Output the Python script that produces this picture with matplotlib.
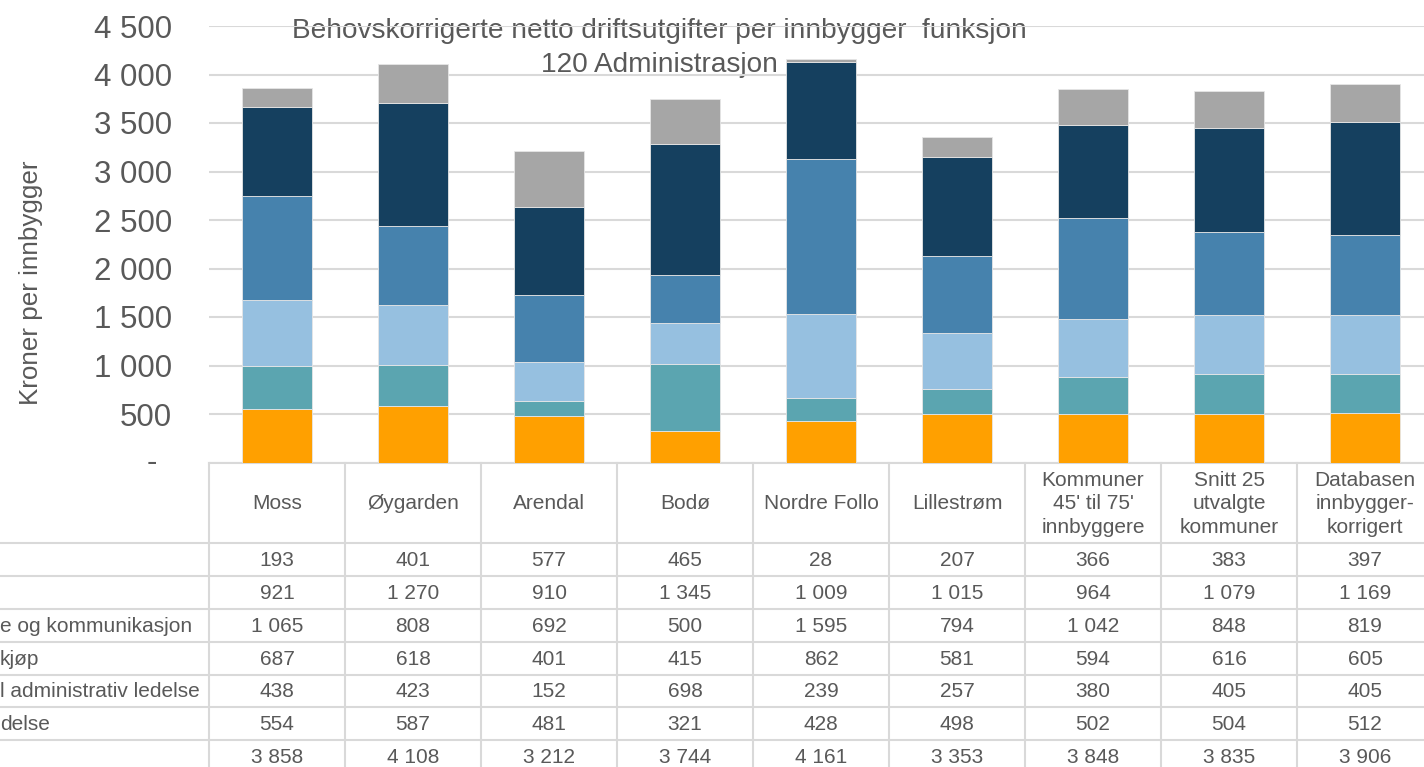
import matplotlib
matplotlib.use("Agg")
import matplotlib.pyplot as plt
from matplotlib.transforms import blended_transform_factory

# ---------------- data ----------------
categories = ["Moss", "Øygarden", "Arendal", "Bodø", "Nordre Follo", "Lillestrøm",
              "Kommuner\n45' til 75'\ninnbyggere", "Snitt 25\nutvalgte\nkommuner",
              "Databasen\ninnbygger-\nkorrigert"]
# stacked from bottom to top
s_orange = [554, 587, 481, 321, 428, 498, 502, 504, 512]
s_teal = [438, 423, 152, 698, 239, 257, 380, 405, 405]
s_light = [687, 618, 401, 415, 862, 581, 594, 616, 605]
s_steel = [1065, 808, 692, 500, 1595, 794, 1042, 848, 819]
s_navy = [921, 1270, 910, 1345, 1009, 1015, 964, 1079, 1169]
s_grey = [193, 401, 577, 465, 28, 207, 366, 383, 397]
totals = [3858, 4108, 3212, 3744, 4161, 3353, 3848, 3835, 3906]
# visible (cropped) parts of the table row labels, top row first
row_labels = ["", "", "e og kommunikasjon", "kjøp", "l administrativ ledelse", "delse", ""]
yticks = [0, 500, 1000, 1500, 2000, 2500, 3000, 3500, 4000, 4500]
title1 = "Behovskorrigerte netto driftsutgifter per innbygger  funksjon"
title2 = "120 Administrasjon"
ylabel = "Kroner per innbygger"

series_bottom_up = [s_orange, s_teal, s_light, s_steel, s_navy, s_grey]
colors_bottom_up = ["#FFA000", "#5BA5B0", "#96C0E0", "#4682AD", "#15405F", "#A6A6A6"]

# ---------------- style ----------------
FONT = "Liberation Sans"
TXT = "#595959"
GRID = "#D9D9D9"
W, H = 1424, 767
plt.rcParams["font.family"] = [FONT, "DejaVu Sans"]

def fmt(v):
    return f"{v:,}".replace(",", " ")

fig = plt.figure(figsize=(W / 100, H / 100), dpi=100)
fig.patch.set_facecolor("white")

# pixel-space overlay axes (for table grid / texts)
ax_t = fig.add_axes([0, 0, 1, 1], zorder=0)
ax_t.set_xlim(0, W)
ax_t.set_ylim(H, 0)
ax_t.axis("off")

# main plot axes
left, right, top, bottom = 209, 209 + 9 * 136, 26, 462.5
ax = fig.add_axes([left / W, 1 - bottom / H, (right - left) / W, (bottom - top) / H], zorder=1)
ax.patch.set_alpha(0)
x = list(range(len(categories)))
base = [0] * len(categories)
for vals, col in zip(series_bottom_up, colors_bottom_up):
    ax.bar(x, vals, width=0.515, bottom=base, color=col, edgecolor="#E6E6E6",
           linewidth=0.6, zorder=3)
    base = [b + v for b, v in zip(base, vals)]

ax.set_xlim(-0.5, len(categories) - 0.5)
ax.set_ylim(0, 4500)
ax.set_yticks(yticks)
ax.set_yticklabels(["" if v == 0 else fmt(v) for v in yticks])
ax.tick_params(axis="y", length=0, pad=26.5, labelsize=22.5, labelcolor=TXT)
ax.tick_params(axis="x", length=0, labelbottom=False)
ax.grid(axis="y", color=GRID, linewidth=1.5, zorder=0)
ax.set_axisbelow(True)
for sp in ax.spines.values():
    sp.set_visible(False)
# zero label shown as a dash (accounting format)
ax.text(152, 0, "-", transform=blended_transform_factory(ax_t.transData, ax.transData),
        ha="center", va="center", fontsize=22.5, color=TXT)

# y label
ax_t.text(31, 283, ylabel, rotation=90, ha="center", va="center", fontsize=18.7, color=TXT)

# title
ax_t.text(659, 37.5, title1, ha="center", va="baseline", fontsize=20.2, color=TXT, zorder=5)
ax_t.text(659, 71.5, title2, ha="center", va="baseline", fontsize=20.2, color=TXT, zorder=5)

# ---------------- data table ----------------
tr = blended_transform_factory(ax.transData, ax_t.transData)
head_top, head_bot = 462.5, 543.3
row_h = 32.8
n_rows = len(row_labels)
# vertical lines
for k in range(len(categories) + 1):
    ax_t.plot([k - 0.5, k - 0.5], [head_top, H + 5], transform=tr, color=GRID, lw=1.5,
              clip_on=False)
# horizontal lines
ax_t.plot([-0.5, len(categories) - 0.5], [head_top, head_top], transform=tr, color=GRID,
          lw=1.5, clip_on=False)
for r in range(n_rows + 1):
    yy = head_bot + r * row_h
    ax_t.plot([0, W], [yy, yy], color=GRID, lw=1.5, clip_on=False)

# header texts
for i, c in enumerate(categories):
    ax_t.text(i, (head_top + head_bot) / 2 + 1, c, transform=tr, ha="center", va="center",
              fontsize=15, color=TXT, linespacing=1.3)

table_rows = [s_grey, s_navy, s_steel, s_light, s_teal, s_orange, totals]
for r, (lab, vals) in enumerate(zip(row_labels, table_rows)):
    yc = head_bot + (r + 0.5) * row_h + 1
    if lab:
        ax_t.text(0, yc, lab, ha="left", va="center", fontsize=15, color=TXT)
    for i, v in enumerate(vals):
        ax_t.text(i, yc, fmt(v), transform=tr, ha="center", va="center", fontsize=15,
                  color=TXT)

fig.savefig("out.png", dpi=100)
